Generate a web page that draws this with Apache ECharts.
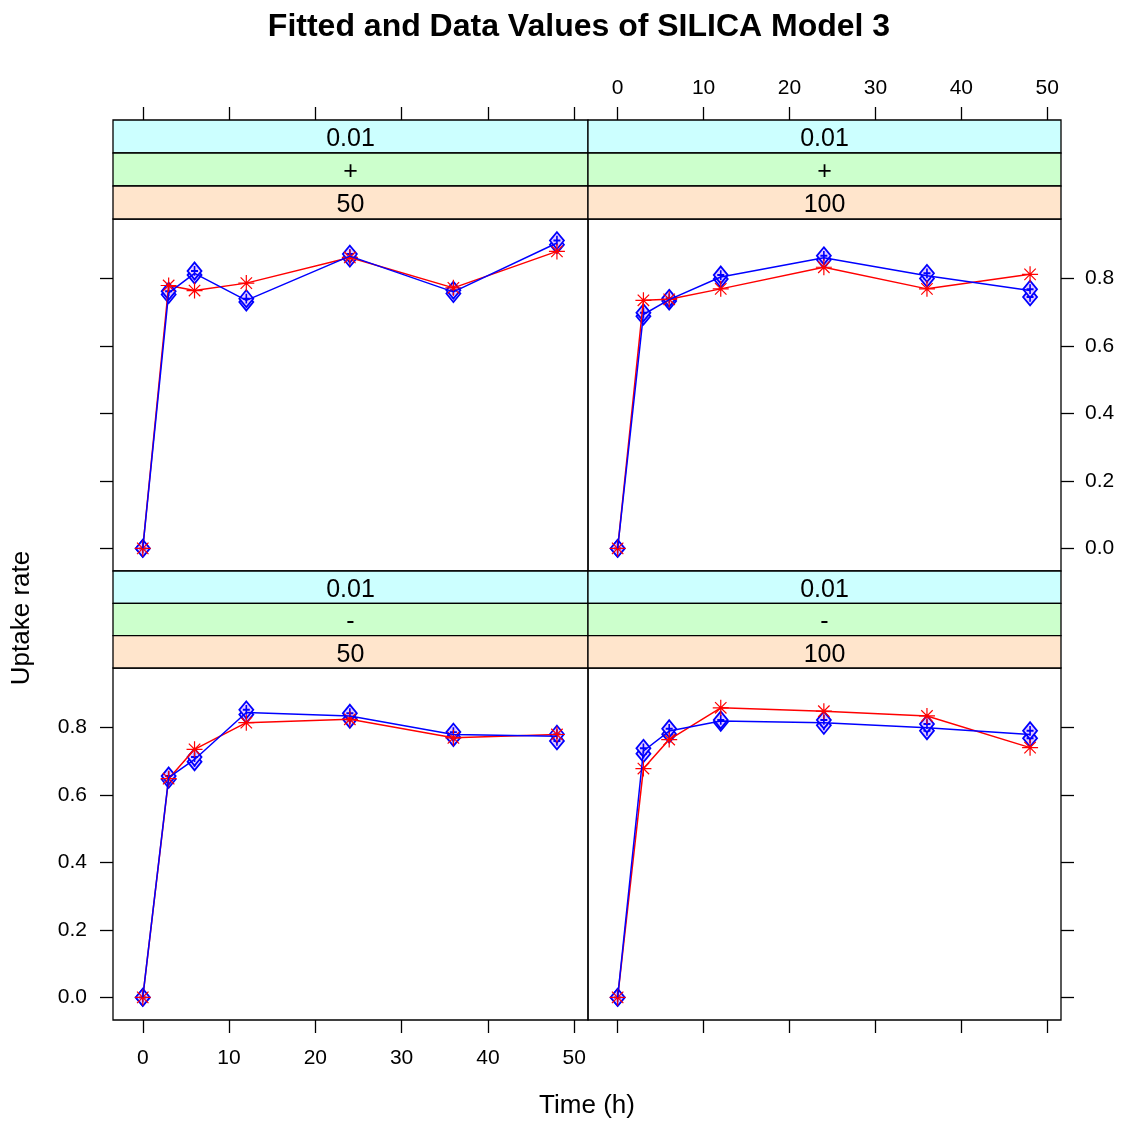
<!DOCTYPE html>
<html>
<head>
<meta charset="utf-8">
<script src="https://cdn.jsdelivr.net/npm/echarts@6/dist/echarts.min.js"></script>
<style>
  html, body { margin: 0; padding: 0; background: #fff; }
  #chart { width: 1128px; height: 1124px; }
</style>
</head>
<body>
<div id="chart"></div>
<script>
// sampling times (h)
const times = [0, 3, 6, 12, 24, 36, 48]
const xTicks = [0, 10, 20, 30, 40, 50]
const yTicks = [0, 0.2, 0.4, 0.6, 0.8]

// strip labels, panel order: top-left, top-right, bottom-left, bottom-right
const stripTop = ['0.01', '0.01', '0.01', '0.01']
const stripMid = ['+', '+', '-', '-']
const stripBot = ['50', '100', '50', '100']

// fitted values (red)
const fitTL = [0, 0.779, 0.764, 0.786, 0.862, 0.772, 0.880]
const fitTR = [0, 0.735, 0.738, 0.769, 0.833, 0.769, 0.812]
const fitBL = [0, 0.648, 0.735, 0.814, 0.824, 0.769, 0.779]
const fitBR = [0, 0.678, 0.764, 0.858, 0.848, 0.834, 0.740]

// data line (blue)
const meanTL = [0, 0.757, 0.815, 0.735, 0.866, 0.760, 0.905]
const meanTR = [0, 0.693, 0.737, 0.804, 0.861, 0.808, 0.764]
const meanBL = [0, 0.651, 0.705, 0.844, 0.834, 0.779, 0.774]
const meanBR = [0, 0.730, 0.789, 0.819, 0.814, 0.799, 0.779]

// replicate observations (diamonds)
const rep1TL = [0, 0.752, 0.810, 0.730, 0.860, 0.755, 0.900]
const rep2TL = [0, 0.762, 0.822, 0.740, 0.872, 0.765, 0.912]
const rep1TR = [0, 0.688, 0.733, 0.798, 0.855, 0.800, 0.745]
const rep2TR = [0, 0.698, 0.741, 0.810, 0.867, 0.815, 0.768]
const rep1BL = [0, 0.646, 0.698, 0.838, 0.824, 0.770, 0.760]
const rep2BL = [0, 0.656, 0.712, 0.852, 0.842, 0.786, 0.780]
const rep1BR = [0, 0.722, 0.780, 0.815, 0.806, 0.790, 0.768]
const rep2BR = [0, 0.738, 0.796, 0.822, 0.822, 0.810, 0.790]

const fits = [fitTL, fitTR, fitBL, fitBR]
const means = [meanTL, meanTR, meanBL, meanBR]
const reps = [[rep1TL, rep2TL], [rep1TR, rep2TR], [rep1BL, rep2BL], [rep1BR, rep2BR]]

const FONT = '"Liberation Sans", Arial, sans-serif'
const X_MIN = -3.45, X_MAX = 51.6
const Y_MIN = -0.067, Y_MAX = 0.976

// panel boxes
const panels = [
  { left: 113, top: 219, width: 475, height: 352 },
  { left: 588, top: 219, width: 473, height: 352 },
  { left: 113, top: 668, width: 475, height: 352 },
  { left: 588, top: 668, width: 473, height: 352 }
]
const stripStart = [120, 120, 571, 571]

const DIAMOND = 'path://M6,0 L12,7 L6,14 L0,7 Z M6,3 L6,11 M3,7 L9,7'
const STAR = 'path://M7,0 L7,14 M0,7 L14,7 M2,2 L12,12 M12,2 L2,12'

const pair = arr => arr.map((v, i) => [times[i], v])

const tickStyle = { color: '#000', width: 1.3 }
const labelStyle = { fontSize: 21, fontFamily: FONT, color: '#000' }

const xAxisOf = (g, pos, labels) => ({
  type: 'value', gridIndex: g, min: X_MIN, max: X_MAX,
  position: pos, offset: pos === 'top' ? 99 : 0,
  axisLine: { show: false, onZero: false }, splitLine: { show: false },
  axisTick: { show: true, length: 13, customValues: xTicks, lineStyle: tickStyle },
  axisLabel: Object.assign({ show: labels, customValues: xTicks, margin: pos === 'top' ? 21 : 28 }, labelStyle)
})

const yAxisOf = (g, pos, labels) => ({
  type: 'value', gridIndex: g, min: Y_MIN, max: Y_MAX, position: pos,
  axisLine: { show: false, onZero: false }, splitLine: { show: false },
  axisTick: { show: true, length: 13, customValues: yTicks, lineStyle: tickStyle },
  axisLabel: Object.assign({
    show: labels, customValues: yTicks, margin: pos === 'left' ? 26 : 24,
    formatter: v => v.toFixed(1)
  }, labelStyle)
})

const series = []
panels.forEach((p, g) => {
  reps[g].forEach(r => {
    series.push({
      type: 'scatter', xAxisIndex: g, yAxisIndex: g, data: pair(r),
      symbol: DIAMOND, symbolSize: [14, 17], z: 2,
      itemStyle: { color: '#e4ccff', borderColor: '#0000ff', borderWidth: 1.8, opacity: 1 }
    })
  })
  series.push({
    type: 'line', xAxisIndex: g, yAxisIndex: g, data: pair(fits[g]),
    symbol: STAR, symbolSize: 16, showAllSymbol: true, z: 3,
    lineStyle: { color: '#ff0000', width: 1.5 },
    itemStyle: { color: '#ff0000', borderColor: '#ff0000', borderWidth: 1.2 }
  })
  series.push({
    type: 'line', xAxisIndex: g, yAxisIndex: g, data: pair(means[g]),
    symbol: 'none', z: 4,
    lineStyle: { color: '#0000ff', width: 1.5 }
  })
})

// strips above each panel
const stripColors = ['#ccffff', '#ccffcc', '#ffe5cc']
const graphics = []
panels.forEach((p, g) => {
  const texts = [stripTop[g], stripMid[g], stripBot[g]]
  const h = (p.top - stripStart[g]) / 3
  texts.forEach((t, k) => {
    const y = stripStart[g] + k * h
    graphics.push({
      type: 'rect', silent: true, z: 10,
      shape: { x: p.left, y: y, width: p.width, height: h },
      style: { fill: stripColors[k], stroke: '#000', lineWidth: 1.3 }
    })
    graphics.push({
      type: 'text', silent: true, z: 11, x: p.left + p.width / 2, y: y + h / 2 + 3,
      style: { text: t, font: '25px ' + FONT, fill: '#000', textAlign: 'center', textVerticalAlign: 'middle' }
    })
  })
})
graphics.push({
  type: 'text', silent: true, x: 587, y: 1106,
  style: { text: 'Time (h)', font: '26px ' + FONT, fill: '#000', textAlign: 'center', textVerticalAlign: 'middle' }
})
graphics.push({
  type: 'text', silent: true, x: 22, y: 618, rotation: Math.PI / 2,
  style: { text: 'Uptake rate', font: '26px ' + FONT, fill: '#000', textAlign: 'center', textVerticalAlign: 'middle' }
})

const option = {
  animation: false,
  backgroundColor: '#fff',
  title: {
    text: 'Fitted and Data Values of SILICA Model 3',
    left: 574, top: 6, textAlign: 'center',
    textStyle: { fontSize: 32, fontWeight: 'bold', fontFamily: FONT, color: '#000' }
  },
  grid: panels.map(p => Object.assign({ show: true, borderColor: '#000', borderWidth: 1.3, backgroundColor: 'transparent' }, p)),
  xAxis: [
    xAxisOf(0, 'top', false),
    xAxisOf(1, 'top', true),
    xAxisOf(2, 'bottom', true),
    xAxisOf(3, 'bottom', false)
  ],
  yAxis: [
    yAxisOf(0, 'left', false),
    yAxisOf(1, 'right', true),
    yAxisOf(2, 'left', true),
    yAxisOf(3, 'right', false)
  ],
  series: series,
  graphic: graphics
}

const chart = echarts.init(document.getElementById('chart'))
chart.setOption(option)
window.addEventListener('resize', () => chart.resize())
</script>
</body>
</html>
